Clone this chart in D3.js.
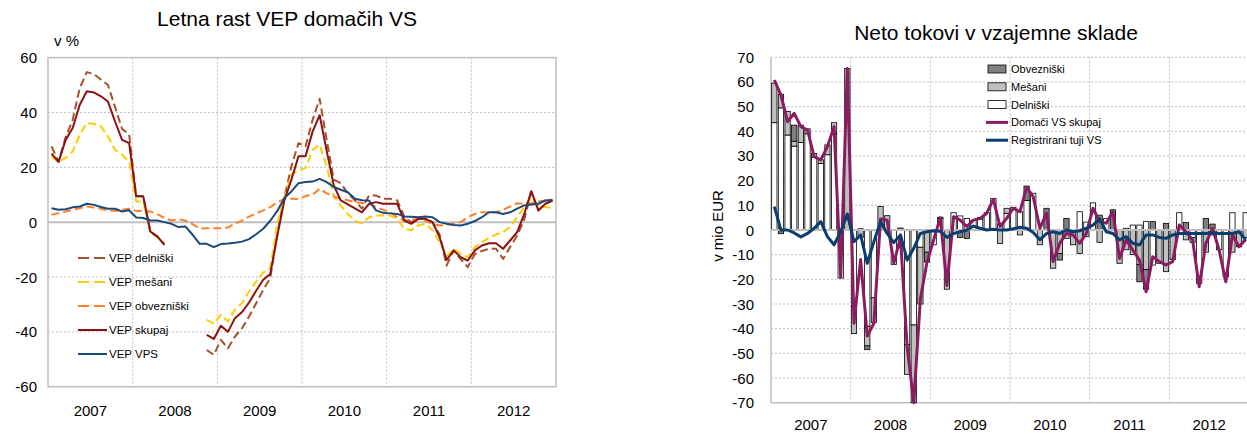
<!DOCTYPE html>
<html><head><meta charset="utf-8">
<script src="https://cdn.jsdelivr.net/npm/d3@7"></script>
<style>body{margin:0;background:#fff;} svg{display:block;font-family:"Liberation Sans",Arial,sans-serif;}</style>
</head><body><svg id="c" width="1247" height="438"></svg>
<script>
// ---------- categories / ticks ----------
const years = ["2007","2008","2009","2010","2011","2012"];
const months = years.flatMap(y => d3.range(1,13).map(m => y+"-"+String(m).padStart(2,"0")));
const leftTicks = [-60,-40,-20,0,20,40,60];
const rightTicks = [-70,-60,-50,-40,-30,-20,-10,0,10,20,30,40,50,60,70];

// ---------- left chart data (annual growth, %) ----------
const vepDelniski = [27.6,22,31,37.3,48.9,54.7,54,52,50,42,34,32,
  9.4,9.4,-3.5,-5.5,-8,null,null,null,null,null,-46.6,-48.4,
  -42.9,-46,-41.7,-38.7,-34.4,-29.6,-24.7,-20.4,-4,9,20.4,28.8,
  27.6,37.3,45,30,15.5,14.2,10.5,8,4.9,9.7,9.7,8.5,
  8.5,7.9,2,0,1.2,1.2,0,-4.5,-15.8,-10.3,-13.5,-16.4,
  -11.6,-10.5,-9.7,-9.7,-13.4,-9.1,-4.9,1,11,4.3,6.7,7.9];
const vepMesani = [24,21.9,23.4,25.8,31.9,36.1,35.9,34.9,31.3,26.4,24.6,22.1,
  7.5,7.5,-3.4,-5.5,-8,null,null,null,null,null,-35.6,-37,
  -33.8,-36.2,-31.9,-29.6,-25.3,-21.7,-18.4,-16.8,-0.4,9,17.3,19,
  19.7,26.4,28.2,20.4,9.4,6,3,0.5,-0.4,1.8,2.4,2.4,
  2.4,1.2,-2.4,-3,-1.2,-0.6,-3,-7.3,-12.5,-9.7,-11.6,-12.8,
  -9.1,-7.3,-5.7,-4.5,-3.6,-1.8,1.8,5.5,9,6,5.5,5.2];
const vepObvezniski = [2.7,3.3,3.9,4.5,5.1,5.7,5.3,4.9,4.3,4.1,4.5,4.9,
  4.1,4.1,3.9,2.9,1.5,0.6,1.1,0.5,-0.7,-2.4,-2.2,-2.2,
  -2.2,-2,-0.5,0.5,2,3.2,4.3,5.5,7.2,8.5,8.5,8.4,
  9.5,10,12.2,10.5,9.4,8.5,8,7.3,7,6.7,5.5,4.5,
  3.6,1.8,0.6,0.9,1.2,0.6,-0.6,-1.2,-1,-0.6,0,1.8,
  3,3.6,3.6,3.6,4.5,5.7,6.9,6.7,6.9,7.5,7.9,7.9];
const vepSkupaj = [25,22,30,34.3,42.8,47.7,47.3,45.9,44,36.7,30,28.8,
  9.4,9.4,-3.4,-5.2,-8.3,null,null,null,null,null,-41.1,-42.6,
  -37.8,-40,-35,-32.8,-29.3,-25,-21,-18.9,-5,8,15.5,24,
  24,33,39,26,13.4,7.9,6.5,5,3.6,6.7,7.3,6.7,
  6.7,6.7,0.6,-0.6,1.2,1.2,0,-5.5,-13.8,-10.3,-12.8,-14,
  -10.3,-8.5,-7.7,-7.7,-9.7,-6.7,-3.6,3,11.3,4.3,6.7,7.9];
const vepVPS = [5.1,4.5,4.7,5.4,5.7,6.7,6.3,5.5,4.9,4.9,3.9,4.3,
  1.7,1.5,0.6,0.6,0,-0.6,-1.8,-1.6,-4.6,-7.9,-7.9,-9.1,
  -8,-7.8,-7.5,-7.1,-6.2,-4.4,-2.4,0.5,4.1,8.8,11.2,14.2,
  14.6,14.8,15.8,14.6,12.8,11.8,10.9,8.5,8,7.9,4.3,3.4,
  3.2,3,2.1,2,1.8,2.1,1.8,0,-0.6,-1,-1.2,-0.6,
  0.4,1.8,3.6,3.6,3,3.6,4.9,6.1,6.4,6.7,7.9,8.2];

// ---------- right chart data (net flows, mio EUR) ----------
const flowObvezniski = [0,-1.5,0,6.5,0,0,0,0,0,0,0,0,
  0,0.5,-1.5,0,0,0,0,0.8,0,0,0,-4,
  0,0.5,0,0,-3,-3.4,0,0.5,0,0,0,0,
  0,0,5.8,0,0,8.8,0,-2.7,4.7,0,0,0,
  0,6,0,8.2,0,0,0,-7,-8,3.4,0,2.7,
  0,0,3,0,0,4.7,2.4,0,0,0,0,0];
const flowMesani = [16,5.5,9.5,2,7,2,1.5,1.5,4,4.5,0,65.5,
  -11,-3,-8,-10,9.5,5.8,0,0,-12,-31.5,-23,-9,
  0,0,-24,0,0,0,0,0,0,0,-5.5,2,
  0,-2,0,0,-6,0,-15.5,-9.5,-3.4,-6,-9.5,-2.7,
  0,-5,0,0,-13.5,-8,-10,-14,-16,0,-13.5,-16.9,
  -12,0,-4,-2,0,-9,-2,0,0,-9,-6.8,-3];
const flowDelniski = [43.5,49.5,38.5,34,35.5,39,29.5,27,30.5,39,-19.5,0,
  -31,0,-39,-27.5,0,0,-14,0,-46.5,-38.5,-7,0,
  -6,4.7,0,7,5.7,4.7,4,4.5,7,12.8,2.5,6.8,
  9.2,7.4,12,14.9,0,0,0,0,0,0,7.4,3.2,
  11,0,4.7,0,0,0.7,2,2,3.4,-14.2,0,0,
  0,7,0,-3,-21.6,0,0,-8,-19,7,0,7];
const flowDomaciSkupaj = [60.8,54.7,43.9,47.3,41.9,40.5,29.7,28.4,33.8,41.9,-19,65.5,
  -37.8,-12,-43,-37.8,4.5,4,-13.5,-3,-47,-70,-28,-13,
  -4,5,-22.5,5.4,4,1.4,4,4.7,6.8,12.4,1.4,4.7,
  8.8,7.4,17.3,13.5,0.7,6.8,-12.8,-5.4,-1.4,-2,-5.4,-1.4,
  8.8,3.4,2.7,7.4,-11.5,-4,-8.1,-12.2,-25,-10.8,-12.8,-14.2,
  -12.8,2,-0.7,-4,-23,-5.4,0.7,-8.1,-21,-2,-6.8,-3.8];
const flowTujiVS = [9.5,0,0,-1.2,-2.8,-1.4,0.7,3.4,-2.7,-6,-0.7,6.5,
  -4.7,-2,-13.5,-4.7,3.4,-1.4,-5.1,-2,-12.2,-7.4,-1.4,-0.7,
  -0.3,-0.5,-3,-1.4,-0.7,0,1.6,0.7,0,0.3,0,0,
  0.5,1.1,0.7,-1,-4,-1.4,-0.7,-1.4,0,-0.7,-0.3,0.7,
  2,4.5,-0.7,-1.4,-4,-2.7,-5.4,-6.1,-2,-2,-3,-3.4,
  -2,-1.4,-1.4,-1.4,-1.4,-1.4,-1.1,-1.4,-1.4,-1.4,-0.7,-4];

const svg = d3.select("#c");
const GRID = "#BFBFBF";

// ================= LEFT CHART =================
const L = {x0:48, x1:556, y0:57.6, y1:386.7};
const xL = d3.scaleBand().domain(months).range([L.x0, L.x1]);
const yL = d3.scaleLinear().domain([-60,60]).range([L.y1, L.y0]);
const gL = svg.append("g");

gL.append("text").attr("x",287).attr("y",26).attr("text-anchor","middle")
  .attr("font-size",21).attr("fill","#000").text("Letna rast VEP domačih VS");
gL.append("text").attr("x",54).attr("y",46).attr("font-size",15).text("v %");

// horizontal grid
gL.selectAll(".hg").data(leftTicks.filter(t=>t!==0 && t!==60 && t!==-60)).join("line")
  .attr("x1",L.x0).attr("x2",L.x1).attr("y1",d=>yL(d)).attr("y2",d=>yL(d))
  .attr("stroke",GRID).attr("stroke-dasharray","2,2");
// vertical grid at year boundaries
gL.selectAll(".vg").data(years.slice(1)).join("line")
  .attr("x1",d=>xL(d+"-01")).attr("x2",d=>xL(d+"-01")).attr("y1",L.y0).attr("y2",L.y1)
  .attr("stroke",GRID).attr("stroke-dasharray","2,2");
// border
gL.append("rect").attr("x",L.x0).attr("y",L.y0).attr("width",L.x1-L.x0).attr("height",L.y1-L.y0)
  .attr("fill","none").attr("stroke",GRID).attr("stroke-width",1.5);
// zero line
gL.append("line").attr("x1",L.x0).attr("x2",L.x1).attr("y1",yL(0)).attr("y2",yL(0))
  .attr("stroke",GRID).attr("stroke-width",2);

// y labels
gL.selectAll(".yl").data(leftTicks).join("text")
  .attr("x",37).attr("y",d=>yL(d)+5.5).attr("text-anchor","end").attr("font-size",15).text(d=>d);
// x labels
gL.selectAll(".xl").data(years).join("text")
  .attr("x",d=>xL(d+"-07")).attr("y",416).attr("text-anchor","middle").attr("font-size",15).text(d=>d);

const lineL = d3.line().defined(d=>d!=null)
  .x((d,i)=>xL(months[i])+xL.bandwidth()/2).y(d=>yL(d));
const leftSeries = [
  {name:"VEP delniški", data:vepDelniski, color:"#A5522A", dash:"8,4"},
  {name:"VEP mešani", data:vepMesani, color:"#FFCC00", dash:"8,4"},
  {name:"VEP obvezniški", data:vepObvezniski, color:"#FF7F2A", dash:"8,4"},
  {name:"VEP skupaj", data:vepSkupaj, color:"#8B1212", dash:null},
  {name:"VEP VPS", data:vepVPS, color:"#1B4A7A", dash:null}
];
leftSeries.forEach(s=>{
  gL.append("path").datum(s.data).attr("d",lineL).attr("fill","none")
    .attr("stroke",s.color).attr("stroke-width",2).attr("stroke-linejoin","round")
    .attr("stroke-dasharray",s.dash);
});
// legend
leftSeries.forEach((s,k)=>{
  const y = 258 + k*24;
  gL.append("line").attr("x1",78).attr("x2",107).attr("y1",y).attr("y2",y)
    .attr("stroke",s.color).attr("stroke-width",2).attr("stroke-dasharray",s.dash?"11,5":null);
  gL.append("text").attr("x",109).attr("y",y+4).attr("font-size",11.5).text(s.name);
});

// ================= RIGHT CHART =================
const R = {x0:771, x1:1249, y0:57.3, y1:402.7};
const xR = d3.scaleBand().domain(months).range([R.x0, R.x1]);
const yR = d3.scaleLinear().domain([-70,70]).range([R.y1, R.y0]);
const gR = svg.append("g");
const step = xR.bandwidth();

gR.append("text").attr("x",996).attr("y",40).attr("text-anchor","middle")
  .attr("font-size",21).text("Neto tokovi v vzajemne sklade");
gR.append("text").attr("transform","translate(723,226) rotate(-90)").attr("text-anchor","middle")
  .attr("font-size",15).text("v mio EUR");

gR.selectAll(".hg").data(rightTicks.filter(t=>t!==0 && t!==-70)).join("line")
  .attr("x1",R.x0).attr("x2",R.x1).attr("y1",d=>yR(d)).attr("y2",d=>yR(d))
  .attr("stroke",GRID).attr("stroke-dasharray","2,2");
gR.selectAll(".vg").data(years.slice(1)).join("line")
  .attr("x1",d=>xR(d+"-01")).attr("x2",d=>xR(d+"-01")).attr("y1",R.y0).attr("y2",R.y1)
  .attr("stroke",GRID).attr("stroke-dasharray","2,2");
gR.append("line").attr("x1",R.x0).attr("x2",R.x0).attr("y1",R.y0).attr("y2",R.y1)
  .attr("stroke",GRID).attr("stroke-width",1.5);
gR.append("line").attr("x1",R.x0).attr("x2",R.x1).attr("y1",R.y1).attr("y2",R.y1)
  .attr("stroke",GRID).attr("stroke-width",1.5);

gR.selectAll(".yl").data(rightTicks).join("text")
  .attr("x",754).attr("y",d=>yR(d)+5.5).attr("text-anchor","end").attr("font-size",15).text(d=>d);
gR.selectAll(".xl").data(years).join("text")
  .attr("x",d=>xR(d+"-07")).attr("y",430).attr("text-anchor","middle").attr("font-size",15).text(d=>d);

// stacked bars
const rows = months.map((m,i)=>({m, del:flowDelniski[i], mes:flowMesani[i], obv:flowObvezniski[i]}));
const stack = d3.stack().keys(["del","mes","obv"]).offset(d3.stackOffsetDiverging)(rows);
const barFill = {del:"#FFFFFF", mes:"#C0C0C0", obv:"#808080"};
stack.forEach(layer=>{
  gR.append("g").selectAll("rect").data(layer.filter(d=>d[1]!==d[0])).join("rect")
    .attr("x",d=>xR(d.data.m)+step*0.1).attr("width",step*0.8)
    .attr("y",d=>yR(Math.max(d[0],d[1]))).attr("height",d=>Math.abs(yR(d[0])-yR(d[1])))
    .attr("fill",barFill[layer.key]).attr("stroke","#000").attr("stroke-width",0.8);
});
// zero line
gR.append("line").attr("x1",R.x0).attr("x2",R.x1).attr("y1",yR(0)).attr("y2",yR(0))
  .attr("stroke",GRID).attr("stroke-width",2);

const lineR = d3.line().x((d,i)=>xR(months[i])+step/2).y(d=>yR(d));
gR.append("path").datum(flowDomaciSkupaj).attr("d",lineR).attr("fill","none")
  .attr("stroke","#8B1C62").attr("stroke-width",3).attr("stroke-linejoin","round");
gR.append("path").datum(flowTujiVS).attr("d",lineR).attr("fill","none")
  .attr("stroke","#0B3D6E").attr("stroke-width",3).attr("stroke-linejoin","round");

// legend
const legR = [
  {name:"Obvezniški", type:"bar", color:barFill.obv},
  {name:"Mešani", type:"bar", color:barFill.mes},
  {name:"Delniški", type:"bar", color:barFill.del},
  {name:"Domači VS skupaj", type:"line", color:"#8B1C62"},
  {name:"Registrirani tuji VS", type:"line", color:"#0B3D6E"}
];
legR.forEach((s,k)=>{
  const y = 69 + k*17.8;
  if(s.type==="bar"){
    gR.append("rect").attr("x",988).attr("y",y-4).attr("width",18).attr("height",8)
      .attr("fill",s.color).attr("stroke","#000").attr("stroke-width",0.8);
  } else {
    gR.append("line").attr("x1",986).attr("x2",1008).attr("y1",y).attr("y2",y)
      .attr("stroke",s.color).attr("stroke-width",3);
  }
  gR.append("text").attr("x",1011).attr("y",y+4).attr("font-size",11).text(s.name);
});
</script></body></html>
